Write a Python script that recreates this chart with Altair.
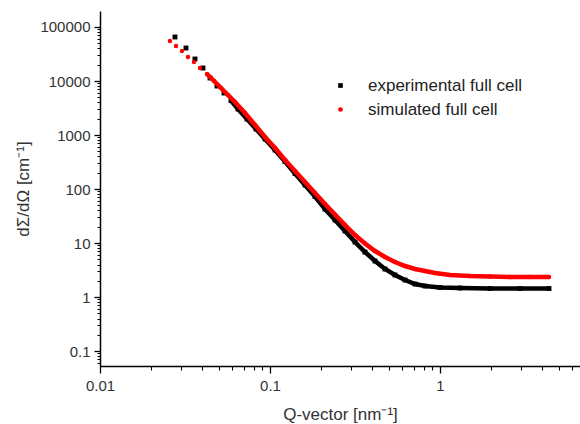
import altair as alt
import pandas as pd

# ---- data ----
exp_q = [0.02761, 0.03205, 0.03620, 0.04035, 0.04437, 0.04877, 0.05362, 0.05895,
         0.06482, 0.07322, 0.08272, 0.09345, 0.1070, 0.1225, 0.1403, 0.1606,
         0.1839, 0.2106, 0.2411, 0.2761, 0.3162, 0.3620, 0.4146, 0.4747,
         0.5435, 0.6224, 0.7127, 0.8161, 1.000, 1.311, 1.968, 2.955, 4.377]
exp_I = [65300, 40840, 25560, 17400, 11370, 8080, 5995, 4354,
         3030, 1979, 1292, 843, 527.6, 323, 193.6, 118.6,
         72.6, 42.6, 26.7, 16.7, 10.43, 6.81, 4.64, 3.30,
         2.556, 2.064, 1.741, 1.599, 1.499, 1.468, 1.437, 1.437, 1.437]

sim_q = [0.02580, 0.02800, 0.03037, 0.03293, 0.03571, 0.03874, 0.04260, 0.04684,
         0.05150, 0.05661, 0.06224, 0.07127, 0.08161, 0.09345, 0.1070, 0.1225,
         0.1403, 0.1606, 0.1839, 0.2106, 0.2411, 0.2761, 0.3162, 0.3620,
         0.4146, 0.4747, 0.5435, 0.6224, 0.7127, 0.8161, 0.9346, 1.145,
         1.501, 1.968, 2.581, 3.383, 4.377]
sim_I = [55050, 44480, 35940, 27830, 22480, 17400, 13480, 10000,
         7420, 5505, 4084, 2556, 1532, 918, 574.6, 344.4,
         215.4, 134.8, 84.3, 52.8, 33.7, 21.5, 14.07, 9.79,
         7.11, 5.505, 4.448, 3.751, 3.300, 3.030, 2.783, 2.556,
         2.448, 2.397, 2.346, 2.346, 2.346]

EXP = "experimental full cell"
SIM = "simulated full cell"
series_names = [EXP, SIM]

x_major = [0.01, 0.1, 1]
x_minor = [0.02, 0.03, 0.04, 0.05, 0.06, 0.07, 0.08, 0.09,
           0.2, 0.3, 0.4, 0.5, 0.6, 0.7, 0.8, 0.9, 2, 3, 4, 5, 6]
y_major = [0.1, 1, 10, 100, 1000, 10000, 100000]
y_minor = [m * d for d in [0.01, 0.1, 1, 10, 100, 1000, 10000, 100000]
           for m in [2, 3, 4, 5, 6, 7, 8, 9]]

df = pd.DataFrame({
    "q": exp_q + sim_q,
    "I": exp_I + sim_I,
    "series": [EXP] * len(exp_q) + [SIM] * len(sim_q),
})

FONT = "Liberation Sans"
xscale = alt.Scale(type="log", domain=[0.01, 6.66], nice=False)
yscale = alt.Scale(type="log", domain=[0.0528, 197800], nice=False)

x_major_axis = alt.Axis(values=x_major, format="~g", tickSize=7, tickWidth=1.3,
                        domainWidth=1.5, domainColor="black", tickColor="black",
                        labelFontSize=15, labelFont=FONT, labelColor="#333",
                        labelPadding=5, labelFlush=False, grid=False,
                        title="Q-vector [nm⁻¹]", titleFont=FONT, titleFontSize=17,
                        titleFontWeight="normal", titleColor="#333", titlePadding=13)
y_major_axis = alt.Axis(values=y_major, format="~g", tickSize=6, tickWidth=1.3,
                        domainWidth=1.5, domainColor="black", tickColor="black",
                        labelFontSize=15, labelFont=FONT, labelColor="#333",
                        labelPadding=4, labelFlush=False, grid=False,
                        title="dΣ/dΩ [cm⁻¹]", titleFont=FONT, titleFontSize=17,
                        titleFontWeight="normal", titleColor="#333", titlePadding=7)
x_minor_axis = alt.Axis(values=x_minor, orient="bottom", labels=False, domain=False,
                        tickSize=4, tickWidth=1.1, tickColor="black", grid=False, title="")
y_minor_axis = alt.Axis(values=y_minor, orient="left", labels=False, domain=False,
                        tickSize=3, tickWidth=1.0, tickColor="black", grid=False, title="")

legend_opts = dict(title=None, orient="none", legendX=232, legendY=66,
                   labelFont=FONT, labelFontSize=17, labelColor="#222",
                   symbolSize=22, labelOffset=19, rowPadding=6, padding=0)
color_enc = alt.Color("series:N", scale=alt.Scale(domain=series_names, range=["black", "red"]),
                      legend=alt.Legend(**legend_opts))
shape_enc = alt.Shape("series:N", scale=alt.Scale(domain=series_names, range=["square", "circle"]),
                      legend=alt.Legend(**legend_opts))

base = alt.Chart(df)

black_line = base.transform_filter(
    (alt.datum.series == EXP) & (alt.datum.q >= 0.058)
).mark_line(color="black", strokeWidth=4.5).encode(
    x=alt.X("q:Q", scale=xscale, axis=x_major_axis),
    y=alt.Y("I:Q", scale=yscale, axis=y_major_axis),
)
black_pts = base.transform_filter(alt.datum.series == EXP).mark_point(
    filled=True, size=24, opacity=1).encode(
    x=alt.X("q:Q", scale=xscale, axis=None),
    y=alt.Y("I:Q", scale=yscale, axis=None),
    color=color_enc, shape=shape_enc,
)
red_line = base.transform_filter(
    (alt.datum.series == SIM) & (alt.datum.q >= 0.04)
).mark_line(color="red", strokeWidth=4.5).encode(
    x=alt.X("q:Q", scale=xscale, axis=None),
    y=alt.Y("I:Q", scale=yscale, axis=None),
)
red_pts = base.transform_filter(alt.datum.series == SIM).mark_point(
    filled=True, size=20, opacity=1).encode(
    x=alt.X("q:Q", scale=xscale, axis=None),
    y=alt.Y("I:Q", scale=yscale, axis=None),
    color=color_enc, shape=shape_enc,
)
minor = base.mark_point(opacity=0).encode(
    x=alt.X("q:Q", scale=xscale, axis=x_minor_axis),
    y=alt.Y("I:Q", scale=yscale, axis=y_minor_axis),
)

chart = alt.layer(black_line, black_pts, red_line, red_pts, minor).resolve_axis(
    x="independent", y="independent"
).properties(
    width=480, height=355,
    autosize=alt.AutoSizeParams(type="none"),
    padding={"left": 100, "top": 11, "right": 0, "bottom": 58},
    background="white",
).configure_view(stroke=None)

chart.save("out.html", embed_options={"renderer": "svg", "actions": False})
